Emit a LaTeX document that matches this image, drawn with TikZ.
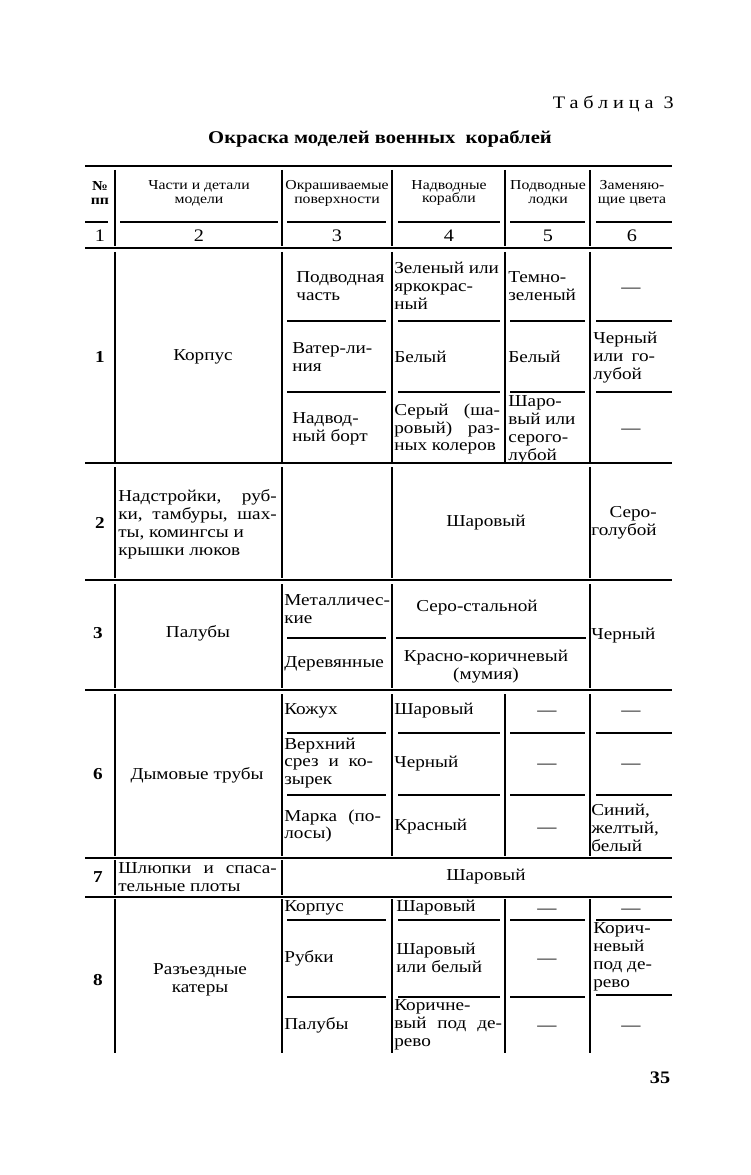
\documentclass[tikz,border=0pt]{standalone}
\usepackage{fontspec}
\setmainfont{Liberation Serif}[FakeStretch=1.15]
\newfontfamily\spacedfont{Liberation Serif}[FakeStretch=1.15,LetterSpace=28]
\newcommand\jl[2]{\makebox[\dimexpr #1pt*567/1000\relax][s]{#2}}
\tikzset{
  cell/.style={inner sep=0pt, font=\fontsize{9.5}{10.2}\selectfont, align=left},
  lcell/.style={cell, anchor=west},
  ccell/.style={cell, align=center},
  rcell/.style={cell, align=right, anchor=east},
  dcell/.style={cell, yshift=-0.06cm},
  hd/.style={inner sep=0pt, font=\fontsize{7.8}{7.9}\selectfont, align=center},
  colnum/.style={inner sep=0pt, font=\fontsize{10}{10}\selectfont},
  rownum/.style={inner sep=0pt, font=\bfseries\fontsize{9.5}{10}\selectfont},
  hrule/.style={line width=1pt},
  srule/.style={line width=0.8pt},
  vrule/.style={line width=0.75pt},
}
\begin{document}
\begin{tikzpicture}[x=0.02cm, y=-0.02cm]
\useasboundingbox (0,0) rectangle (750,1175);
\fill[white] (0,0) rectangle (750,1175);

% titles
\node[inner sep=0pt, anchor=east, font=\spacedfont\fontsize{10}{10}\selectfont] (tabno) at (674,104) {Таблица 3};
\node[inner sep=0pt, font=\bfseries\fontsize{10.2}{10}\selectfont] (title) at (380,139) {Окраска моделей военных\ \ кораблей};
\node[inner sep=0pt, font=\bfseries\fontsize{10}{10}\selectfont] (page) at (660,1078) {35};

% full horizontal rules
\foreach \yy in {166,248,463,580,690,858,897}
  \draw[hrule] (85,\yy) -- (672,\yy);

% header sub-rule
\foreach \a/\b in {85/108,120/278,287/386,398/500,510/585,596/672}
  \draw[srule] (\a,222) -- (\b,222);

% vertical rules
\foreach \xx in {115,282,392,505,590}
  \draw[vrule] (\xx,170) -- (\xx,246);
\foreach \xx in {115,282,392,505,590}
  \draw[vrule] (\xx,252) -- (\xx,463);
\foreach \xx in {115,282,392,590}
  \draw[vrule] (\xx,467) -- (\xx,578);
\foreach \xx in {115,282,392,590}
  \draw[vrule] (\xx,584) -- (\xx,688);
\foreach \xx in {115,282,392,505,590}
  \draw[vrule] (\xx,694) -- (\xx,856);
\foreach \xx in {115,282}
  \draw[vrule] (\xx,860) -- (\xx,895);
\foreach \xx in {115,282,392,505,590}
  \draw[vrule] (\xx,899) -- (\xx,1053);

% sub-rules inside rows
\foreach \yy in {321,392,733,795,920}
  \foreach \a/\b in {287/386,398/500,510/585,596/672}
    \draw[srule] (\a,\yy) -- (\b,\yy);
\foreach \a/\b in {287/386,396/586}
  \draw[srule] (\a,638) -- (\b,638);
\foreach \a/\b in {287/386,398/500,510/585}
  \draw[srule] (\a,997) -- (\b,997);
\draw[srule] (596,995) -- (672,995);

% header
\node[hd, font=\bfseries\fontsize{7.8}{7.9}\selectfont] (h1) at (100,193) {№\\пп};
\node[hd] (h2) at (199,193) {Части и детали\\модели};
\node[hd] (h3) at (337,193) {Окрашиваемые\\поверхности};
\node[hd] (h4) at (449,193) {Надводные\\корабли};
\node[hd] (h5) at (548,193) {Подводные\\лодки};
\node[hd] (h6) at (632,193) {Заменяю-\\щие цвета};
\node[colnum] (n1) at (100,236) {1};
\node[colnum] (n2) at (199,236) {2};
\node[colnum] (n3) at (337,236) {3};
\node[colnum] (n4) at (449,236) {4};
\node[colnum] (n5) at (548,236) {5};
\node[colnum] (n6) at (632,236) {6};

% row 1
\node[rownum] (r1) at (100,357) {1};
\node[ccell] (r1b) at (203,357) {Корпус};
\node[lcell] (r1c1) at (296,286.5) {Подводная\\часть};
\node[lcell] (r1d1) at (394,286) {Зеленый или\\яркокрас-\\ный};
\node[lcell] (r1e1) at (508,286.5) {Темно-\\зеленый};
\node[dcell] (r1f1) at (631,287) {—};
\node[lcell] (r1c2) at (292,357) {\jl{92}{Ватер-ли-}\\ния};
\node[lcell] (r1d2) at (394,357) {Белый};
\node[lcell] (r1e2) at (508,357) {Белый};
\node[lcell] (r1f2) at (593,358) {Черный\\\jl{62}{или го-}\\лубой};
\node[lcell] (r1c3) at (292,429) {Надвод-\\ный борт};
\node[lcell] (r1d3) at (394,429) {\jl{106}{Серый (ша-}\\\jl{106}{ровый) раз-}\\ных колеров};
\node[lcell] (r1e3) at (508,429.5) {Шаро-\\вый или\\серого-\\лубой};
\node[dcell] (r1f3) at (631,428) {—};

% row 2
\node[rownum] (r2) at (100,523) {2};
\node[lcell] (r2b) at (118,524) {\jl{159}{Надстройки, руб-}\\\jl{159}{ки, тамбуры, шах-}\\ты, комингсы и\\крышки люков};
\node[ccell] (r2d) at (486,523) {Шаровый};
\node[rcell] (r2f) at (657,523) {Серо-\\голубой};

% row 3
\node[rownum] (r3) at (98,633) {3};
\node[ccell] (r3b) at (198,633) {Палубы};
\node[lcell] (r3c1) at (284,609) {Металличес-\\кие};
\node[ccell] (r3d1) at (477,608) {Серо-стальной};
\node[lcell] (r3c2) at (284,664) {Деревянные};
\node[ccell] (r3d2) at (486,667) {Красно-коричневый\\(мумия)};
\node[lcell] (r3f) at (591,636) {Черный};

% row 6
\node[rownum] (r6) at (98,774) {6};
\node[ccell] (r6b) at (197,775) {Дымовые трубы};
\node[lcell] (r6c1) at (284,711) {Кожух};
\node[lcell] (r6d1) at (394,711) {Шаровый};
\node[dcell] (r6e1) at (547,710) {—};
\node[dcell] (r6f1) at (631,710) {—};
\node[lcell] (r6c2) at (284,763) {Верхний\\\jl{89}{срез и ко-}\\зырек};
\node[lcell] (r6d2) at (394,764) {Черный};
\node[dcell] (r6e2) at (547,763) {—};
\node[dcell] (r6f2) at (631,763) {—};
\node[lcell] (r6c3) at (284,826) {\jl{97}{Марка (по-}\\лосы)};
\node[lcell] (r6d3) at (394,827) {Красный};
\node[dcell] (r6e3) at (547,827) {—};
\node[lcell] (r6f3) at (591,828) {Синий,\\желтый,\\белый};

% row 7
\node[rownum] (r7) at (98,877) {7};
\node[lcell] (r7b) at (118,877.5) {\jl{159}{Шлюпки и спаса-}\\тельные плоты};
\node[ccell] (r7d) at (486,877) {Шаровый};

% row 8
\node[rownum] (r8) at (98,980) {8};
\node[ccell] (r8b) at (200,980) {Разъездные\\катеры};
\node[lcell] (r8c1) at (284,908) {Корпус};
\node[lcell] (r8d1) at (396,908) {Шаровый};
\node[dcell] (r8e1) at (547,908) {—};
\node[dcell] (r8f1) at (631,908) {—};
\node[lcell] (r8c2) at (284,958) {Рубки};
\node[lcell] (r8d2) at (396,957.5) {Шаровый\\или белый};
\node[dcell] (r8e2) at (547,958) {—};
\node[lcell] (r8f2) at (593,957) {Корич-\\невый\\под де-\\рево};
\node[lcell] (r8c3) at (284,1025) {Палубы};
\node[lcell] (r8d3) at (394,1025) {Коричне-\\\jl{108}{вый под де-}\\рево};
\node[dcell] (r8e3) at (547,1025) {—};
\node[dcell] (r8f3) at (631,1025) {—};
\end{tikzpicture}
\end{document}
